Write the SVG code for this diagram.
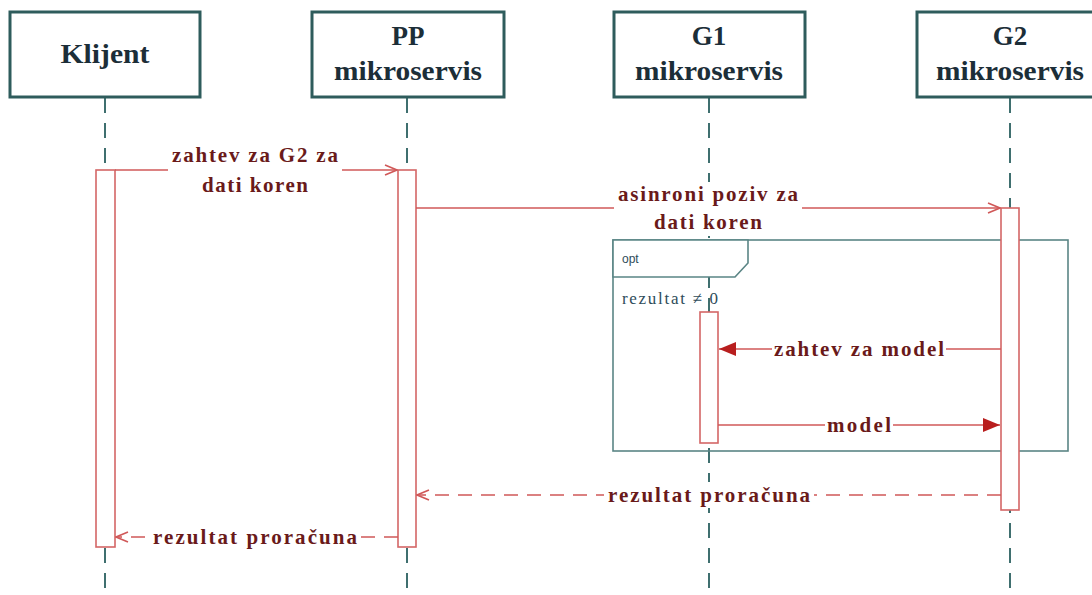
<svg xmlns="http://www.w3.org/2000/svg" width="1092" height="595" viewBox="0 0 1092 595">
  <defs>
    <style>
      .head { fill: #ffffff; stroke: #2e5c5c; stroke-width: 3; }
      .headtxt { font-family: "Liberation Serif", "DejaVu Serif", serif; font-weight: bold; font-size: 27px; fill: #1c2e38; text-anchor: middle; }
      .life { stroke: #3f6f6f; stroke-width: 2; stroke-dasharray: 15 10; fill: none; }
      .bar { fill: #ffffff; stroke: #d46666; stroke-width: 1.6; }
      .msg { stroke: #d05858; stroke-width: 1.6; fill: none; }
      .dash { stroke-dasharray: 14 9; }
      .lbl { font-family: "Liberation Serif", "DejaVu Serif", serif; font-weight: bold; font-size: 21px; fill: #6a1a1a; text-anchor: middle; }
      .bg { fill: #ffffff; }
      .frame { fill: none; stroke: #5a8585; stroke-width: 1.6; }
      .tab { fill: #ffffff; stroke: #5a8585; stroke-width: 1.6; }
      .opt { font-family: "Liberation Sans", Arial, sans-serif; font-size: 12px; fill: #2e4c5a; }
      .guard { font-family: "Liberation Serif", "DejaVu Serif", serif; font-size: 17px; fill: #2e4c5a; }
    </style>
    <marker id="open" markerWidth="14" markerHeight="12" refX="13" refY="6" orient="auto" markerUnits="userSpaceOnUse">
      <path d="M1,1 L13,6 L1,11" fill="none" stroke="#d05858" stroke-width="1.6"/>
    </marker>
    <marker id="solid" markerWidth="18" markerHeight="14" refX="17" refY="7" orient="auto" markerUnits="userSpaceOnUse">
      <path d="M0,0 L17,7 L0,14 Z" fill="#b81e1e"/>
    </marker>
  </defs>

  <!-- lifelines -->
  <g id="lifelines">
    <line class="life" x1="105" y1="98" x2="105" y2="595"/>
    <line class="life" x1="407" y1="98" x2="407" y2="595"/>
    <line class="life" x1="709" y1="98" x2="709" y2="595"/>
    <line class="life" x1="1010" y1="98" x2="1010" y2="595"/>
  </g>

  <!-- combined fragment -->
  <g id="opt-fragment">
    <rect class="frame" x="613" y="240" width="455" height="211"/>
    <path class="tab" d="M613,240 L748,240 L748,263 L735,277 L613,277 Z"/>
    <text class="opt" x="622" y="263">opt</text>
  </g>

  <!-- lifeline heads -->
  <g id="klijent">
    <rect class="head" x="10" y="12" width="190" height="85"/>
    <text class="headtxt" x="105" y="63" textLength="89" lengthAdjust="spacingAndGlyphs">Klijent</text>
  </g>
  <g id="pp">
    <rect class="head" x="312" y="12" width="192" height="85"/>
    <text class="headtxt" x="408" y="45">PP</text>
    <text class="headtxt" x="408" y="80" textLength="148" lengthAdjust="spacingAndGlyphs">mikroservis</text>
  </g>
  <g id="g1">
    <rect class="head" x="614" y="12" width="191" height="85"/>
    <text class="headtxt" x="709" y="45">G1</text>
    <text class="headtxt" x="709" y="80" textLength="148" lengthAdjust="spacingAndGlyphs">mikroservis</text>
  </g>
  <g id="g2">
    <rect class="head" x="917" y="12" width="192" height="85"/>
    <text class="headtxt" x="1010" y="45">G2</text>
    <text class="headtxt" x="1010" y="80" textLength="148" lengthAdjust="spacingAndGlyphs">mikroservis</text>
  </g>

  <!-- activation bars -->
  <g id="activations">
    <rect class="bar" x="96" y="170" width="19" height="377"/>
    <rect class="bar" x="398" y="170" width="18" height="377"/>
    <rect class="bar" x="1001" y="208" width="18" height="302"/>
    <rect class="bar" x="700" y="312" width="18" height="131"/>
  </g>

  <!-- guard -->
  <text class="guard" x="622" y="304" textLength="96" lengthAdjust="spacing">rezultat ≠ 0</text>

  <!-- messages -->
  <g id="connectors">
    <line class="msg" x1="115" y1="170" x2="397" y2="170" marker-end="url(#open)"/>
    <rect class="bg" x="168" y="143" width="174" height="55"/>
    <text class="lbl" x="255" y="162" textLength="166" lengthAdjust="spacing">zahtev za G2 za</text>
    <text class="lbl" x="255" y="192" textLength="106" lengthAdjust="spacing">dati koren</text>

    <line class="msg" x1="416" y1="208" x2="1000" y2="208" marker-end="url(#open)"/>
    <rect class="bg" x="614" y="182" width="188" height="54"/>
    <text class="lbl" x="708" y="201" textLength="180" lengthAdjust="spacing">asinroni poziv za</text>
    <text class="lbl" x="708" y="229" textLength="108" lengthAdjust="spacing">dati koren</text>

    <line class="msg" x1="1001" y1="349" x2="719" y2="349" marker-end="url(#solid)"/>
    <rect class="bg" x="772" y="336" width="174" height="26"/>
    <text class="lbl" x="859" y="356" textLength="170" lengthAdjust="spacing">zahtev za model</text>

    <line class="msg" x1="718" y1="425" x2="1000" y2="425" marker-end="url(#solid)"/>
    <rect class="bg" x="825" y="412" width="68" height="26"/>
    <text class="lbl" x="859" y="432" textLength="64" lengthAdjust="spacing">model</text>

    <line class="msg dash" x1="1001" y1="495" x2="417" y2="495" marker-end="url(#open)"/>
    <rect class="bg" x="604" y="482" width="210" height="26"/>
    <text class="lbl" x="709" y="502" textLength="202" lengthAdjust="spacing">rezultat proračuna</text>

    <line class="msg dash" x1="398" y1="537" x2="116" y2="537" marker-end="url(#open)"/>
    <rect class="bg" x="150" y="524" width="210" height="26"/>
    <text class="lbl" x="255" y="544" textLength="204" lengthAdjust="spacing">rezultat proračuna</text>
  </g>
</svg>
